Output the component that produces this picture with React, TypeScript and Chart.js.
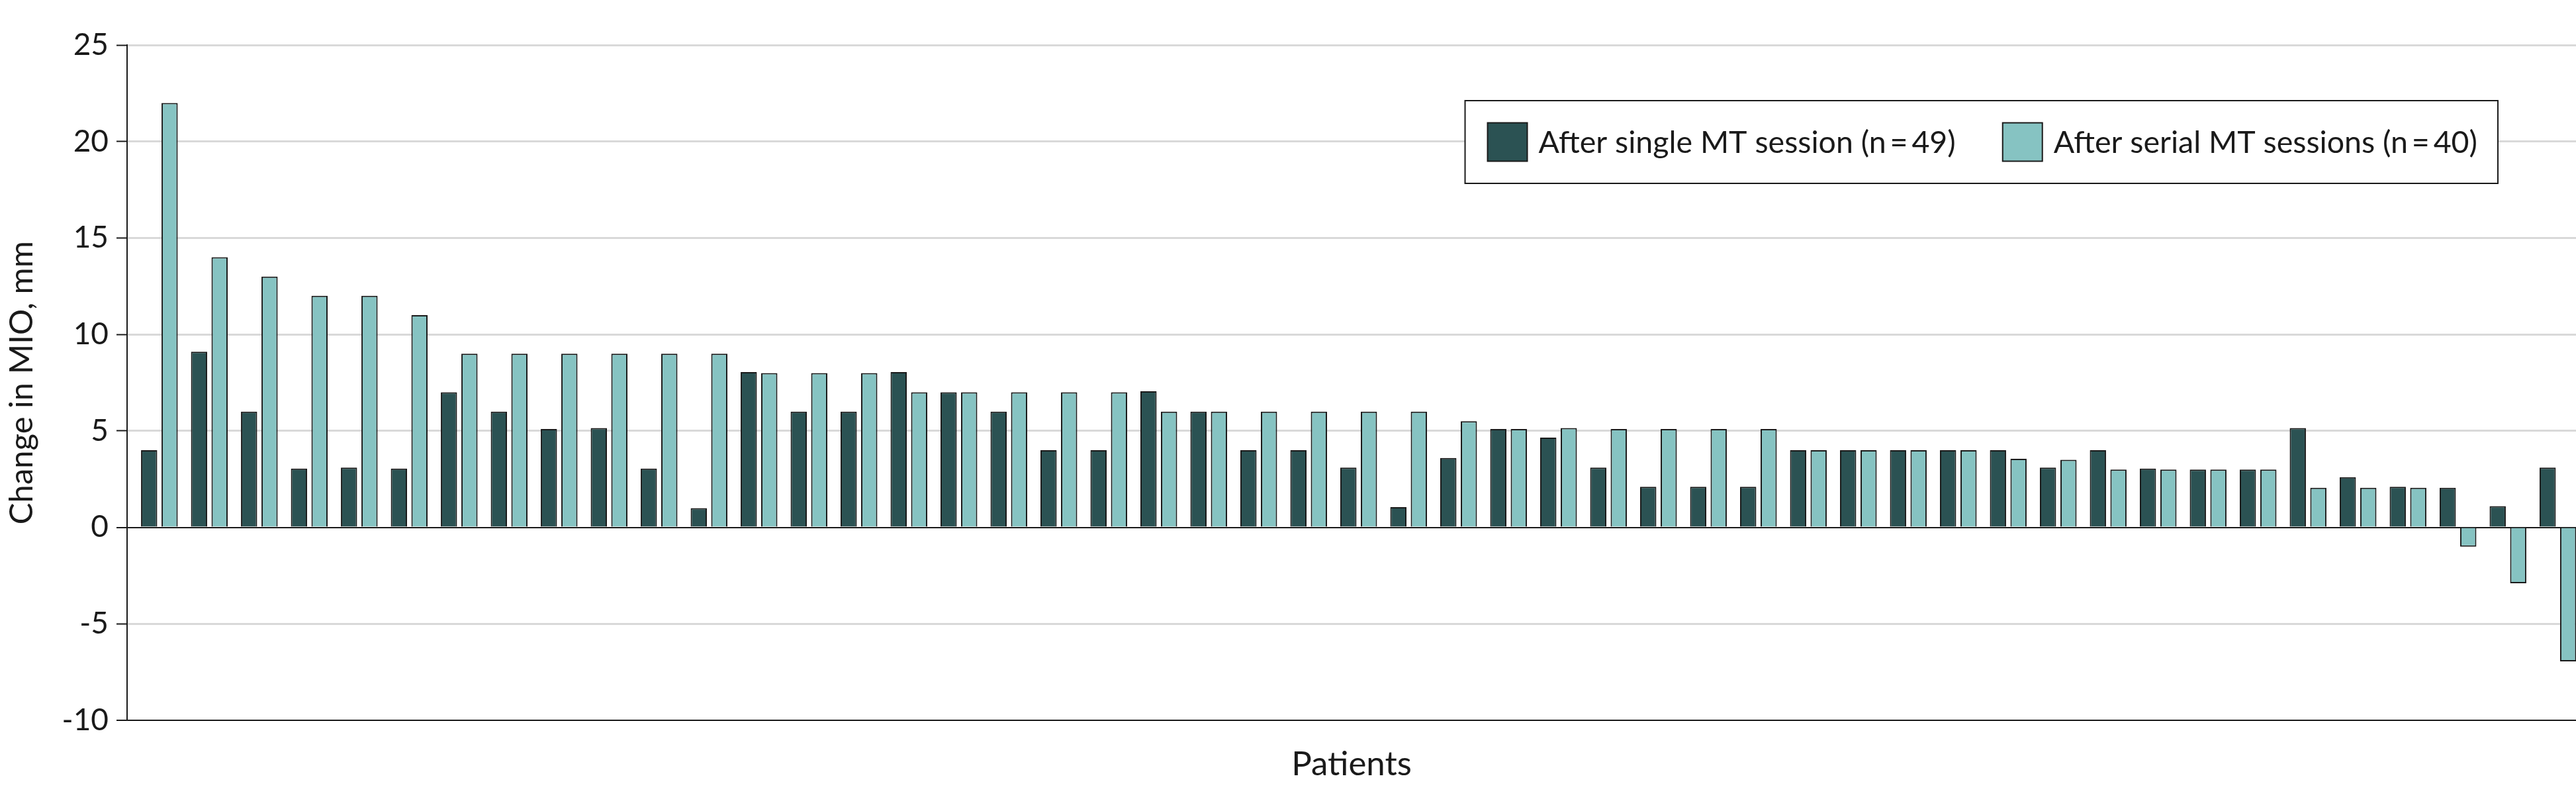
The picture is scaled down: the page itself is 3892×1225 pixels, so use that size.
import { useEffect, useRef } from 'react';
import { Chart, registerables } from 'chart.js';

Chart.register(...registerables);

const FONT = "Lato, 'Liberation Sans', sans-serif";

const patients = [
  1, 2, 3, 4, 5, 6, 7, 8, 9, 10, 11, 12, 13, 14, 15, 16, 17, 18, 19, 20, 21, 22, 23, 24, 25,
  26, 27, 28, 29, 30, 31, 32, 33, 34, 35, 36, 37, 38, 39, 40, 41, 42, 43, 44, 45, 46, 47, 48, 49,
];

const singleSession = [
  4, 9.1, 6, 3.05, 3.1, 3.05, 7, 6, 5.1, 5.15, 3.05, 1, 8.05, 6, 6, 8.05, 7, 6, 4, 4, 7.05, 6, 4, 4,
  3.1, 1.05, 3.6, 5.1, 4.65, 3.1, 2.1, 2.1, 2.1, 4, 4, 4, 4, 4, 3.1, 4, 3.05, 3, 3, 5.15, 2.6, 2.1,
  2.05, 1.1, 3.1,
];

const serialSessions = [
  22, 14, 13, 12, 12, 11, 9, 9, 9, 9, 9, 9, 8, 8, 8, 7, 7, 7, 7, 7, 6, 6, 6, 6, 6, 6, 5.5, 5.1, 5.15,
  5.1, 5.1, 5.1, 5.1, 4, 4, 4, 4, 3.55, 3.5, 3, 3, 3, 3, 2.05, 2.05, 2.05, -1, -2.9, -6.95,
];

const yTickValues = [-10, -5, 0, 5, 10, 15, 20, 25];

const seriesLabels = ['After single MT session (n\u2009=\u200949)', 'After serial MT sessions (n\u2009=\u200940)'];
const yAxisTitle = 'Change in MIO, mm';
const xAxisTitle = 'Patients';

const DARK = '#2b5253';
const LIGHT = '#86c3c2';
const INK = '#1a1a1a';

const legendBoxPlugin = {
  id: 'legendBox',
  afterDraw(chart: any) {
    const { ctx, chartArea } = chart;
    ctx.save();
    ctx.font = `46.5px ${FONT}`;
    const padL = 34;
    const padR = 31;
    const sqW = 60;
    const sqH = 58;
    const gapText = 17;
    const gapItem = 71;
    const items = chart.data.datasets.map((ds: any) => ({
      label: ds.label,
      color: ds.backgroundColor,
      w: ctx.measureText(ds.label).width,
    }));
    let total = padL + padR;
    items.forEach((it: any, i: number) => {
      total += sqW + gapText + it.w + (i > 0 ? gapItem : 0);
    });
    const right = chartArea.right - 118;
    const left = right - total;
    const top = chartArea.top + 84;
    const h = 125;
    ctx.fillStyle = '#ffffff';
    ctx.fillRect(left, top, total, h);
    ctx.lineWidth = 2;
    ctx.strokeStyle = INK;
    ctx.strokeRect(left, top, total, h);
    let x = left + padL;
    const cy = top + h / 2;
    items.forEach((it: any, i: number) => {
      if (i > 0) x += gapItem;
      ctx.fillStyle = it.color;
      ctx.fillRect(x, cy - sqH / 2, sqW, sqH);
      ctx.strokeRect(x, cy - sqH / 2, sqW, sqH);
      x += sqW + gapText;
      ctx.fillStyle = INK;
      ctx.textAlign = 'left';
      ctx.textBaseline = 'middle';
      ctx.fillText(it.label, x, cy + 1);
      x += it.w;
    });
    ctx.restore();
  },
};

export default function App() {
  const canvasRef = useRef<HTMLCanvasElement | null>(null);

  useEffect(() => {
    if (!canvasRef.current) return;
    const chart = new Chart(canvasRef.current, {
      type: 'bar',
      data: {
        labels: patients,
        datasets: [
          {
            label: seriesLabels[0],
            data: singleSession,
            backgroundColor: DARK,
            borderColor: INK,
            borderWidth: 2,
          },
          {
            label: seriesLabels[1],
            data: serialSessions,
            backgroundColor: LIGHT,
            borderColor: INK,
            borderWidth: 2,
          },
        ],
      },
      options: {
        animation: false,
        responsive: false,
        devicePixelRatio: 1,
        categoryPercentage: 0.821,
        barPercentage: 0.79,
        layout: { padding: { top: 68, right: 0, bottom: 0, left: 0 } },
        plugins: {
          legend: { display: false },
          tooltip: { enabled: false },
        },
        scales: {
          x: {
            type: 'linear',
            bounds: 'data',
            offset: false,
            min: 0.3537,
            max: 49.3616,
            afterFit: (s: any) => {
              s.height = 137;
            },
            afterBuildTicks: (s: any) => {
              s.ticks = patients.map((v) => ({ value: v }));
            },
            ticks: { display: false },
            grid: { display: false, offset: false },
            border: { display: true, color: INK, width: 2 },
            title: {
              display: true,
              text: xAxisTitle,
              color: INK,
              font: { family: FONT, size: 51 },
              padding: { top: 0, bottom: 40 },
            },
          },
          y: {
            min: -10,
            max: 25,
            afterFit: (s: any) => {
              s.width = 192;
            },
            afterBuildTicks: (s: any) => {
              s.ticks = yTickValues.map((v) => ({ value: v }));
            },
            ticks: {
              color: INK,
              padding: 12,
              font: { family: FONT, size: 46 },
            },
            grid: {
              color: (c: any) => (c.tick && (c.tick.value === 0 || c.tick.value === -10) ? INK : '#d9d9d9'),
              lineWidth: (c: any) => (c.tick && (c.tick.value === 0 || c.tick.value === -10) ? 2 : 3),
              tickColor: INK,
              tickWidth: 2,
              tickLength: 16,
            },
            border: { display: true, color: INK, width: 2 },
            title: {
              display: true,
              text: yAxisTitle,
              color: INK,
              font: { family: FONT, size: 49 },
              padding: { top: 4, bottom: 0 },
            },
          },
        },
      },
      plugins: [legendBoxPlugin],
    });
    return () => chart.destroy();
  }, []);

  return (
    <div style={{ position: 'absolute', left: 0, top: 0, width: 3892, height: 1225, background: '#fff' }}>
      <canvas ref={canvasRef} width={3892} height={1225} />
    </div>
  );
}
